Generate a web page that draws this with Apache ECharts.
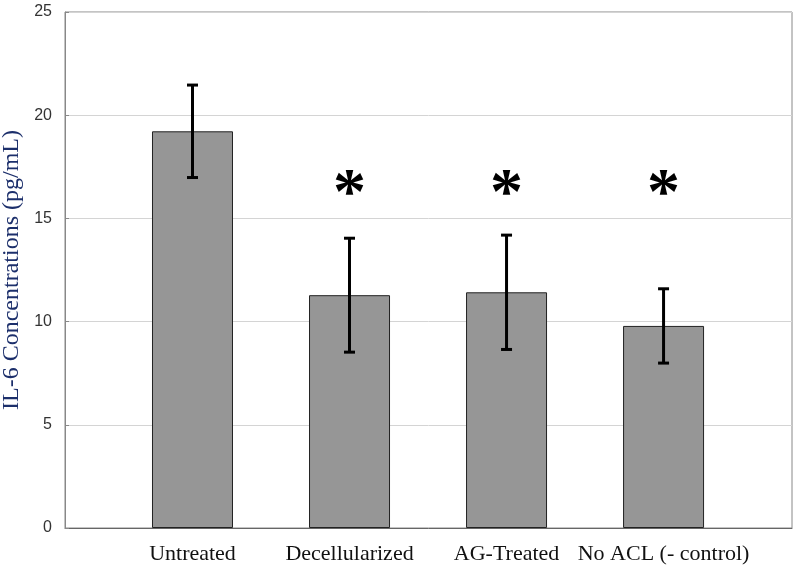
<!DOCTYPE html>
<html>
<head>
<meta charset="utf-8">
<script src="https://cdn.jsdelivr.net/npm/echarts@6/dist/echarts.min.js"></script>
<style>html,body{margin:0;padding:0;background:#fff}#c{width:800px;height:573px}</style>
</head>
<body>
<div id="c"></div>
<script>
const categories = ['Untreated', 'Decellularized', 'AG-Treated', 'No ACL (- control)'];
const means = [19.22, 11.28, 11.42, 9.79];
const errors = [2.24, 2.76, 2.77, 1.80];
const significant = [false, true, true, true];
const starLevel = 16.75;
const yTicks = [0, 5, 10, 15, 20, 25];

const positions = categories.map((c, i) => i + 1);
const barData = positions.map((p, i) => [p, means[i]]);
const errData = positions.map((p, i) => [p, means[i] - errors[i], means[i] + errors[i]]);
const starData = positions.filter((p, i) => significant[i]).map(p => [p, starLevel]);

const chart = echarts.init(document.getElementById('c'), null, {renderer: 'canvas'});
chart.setOption({
  animation: false,
  backgroundColor: '#fff',
  grid: {left: 65, right: 8, top: 12, bottom: 45, show: true, borderColor: '#888', borderWidth: 1,
         containLabel: false, outerBoundsMode: 'none'},
  xAxis: {
    type: 'value', min: 0.188, max: 4.818,
    splitLine: {show: false},
    axisLine: {show: true, lineStyle: {color: '#666'}},
    axisTick: {show: false},
    axisLabel: {
      customValues: positions,
      formatter: v => categories[Math.round(v) - 1] || '',
      fontFamily: 'Liberation Serif', fontSize: 22, color: '#111', margin: 15
    }
  },
  yAxis: {
    type: 'value', min: yTicks[0], max: yTicks[yTicks.length - 1], interval: 5,
    name: 'IL-6 Concentrations (pg/mL)', nameLocation: 'middle', nameGap: 30,
    nameTextStyle: {fontFamily: 'Liberation Serif', fontSize: 24, color: '#1c2f6b'},
    axisLine: {show: true, lineStyle: {color: '#888'}},
    axisTick: {show: true, inside: true, length: 4, lineStyle: {color: '#888'}},
    splitLine: {show: true, lineStyle: {color: '#d4d4d4', width: 1}},
    axisLabel: {fontFamily: 'Liberation Sans', fontSize: 16, color: '#333', margin: 13}
  },
  series: [
    {
      type: 'bar', data: barData, barWidth: 81,
      itemStyle: {color: '#969696', borderColor: '#222', borderWidth: 1}
    },
    {
      type: 'custom', data: errData, z: 10,
      renderItem: (params, api) => {
        const x = api.value(0);
        const lo = api.coord([x, api.value(1)]);
        const hi = api.coord([x, api.value(2)]);
        const cap = 5.5;
        const st = {stroke: '#000', lineWidth: 3};
        return {type: 'group', children: [
          {type: 'line', shape: {x1: lo[0], y1: lo[1], x2: hi[0], y2: hi[1]}, style: st},
          {type: 'line', shape: {x1: lo[0] - cap, y1: lo[1], x2: lo[0] + cap, y2: lo[1]}, style: st},
          {type: 'line', shape: {x1: hi[0] - cap, y1: hi[1], x2: hi[0] + cap, y2: hi[1]}, style: st}
        ]};
      }
    },
    {
      type: 'custom', data: starData, z: 10,
      renderItem: (params, api) => {
        const p = api.coord([api.value(0), api.value(1)]);
        return {type: 'text', x: p[0], y: p[1] + 14, style: {
          text: '*', fontFamily: 'Liberation Serif', fontWeight: 'bold', fontSize: 66, fill: '#000',
          align: 'center', verticalAlign: 'middle'
        }};
      }
    }
  ]
});
</script>
</body>
</html>
